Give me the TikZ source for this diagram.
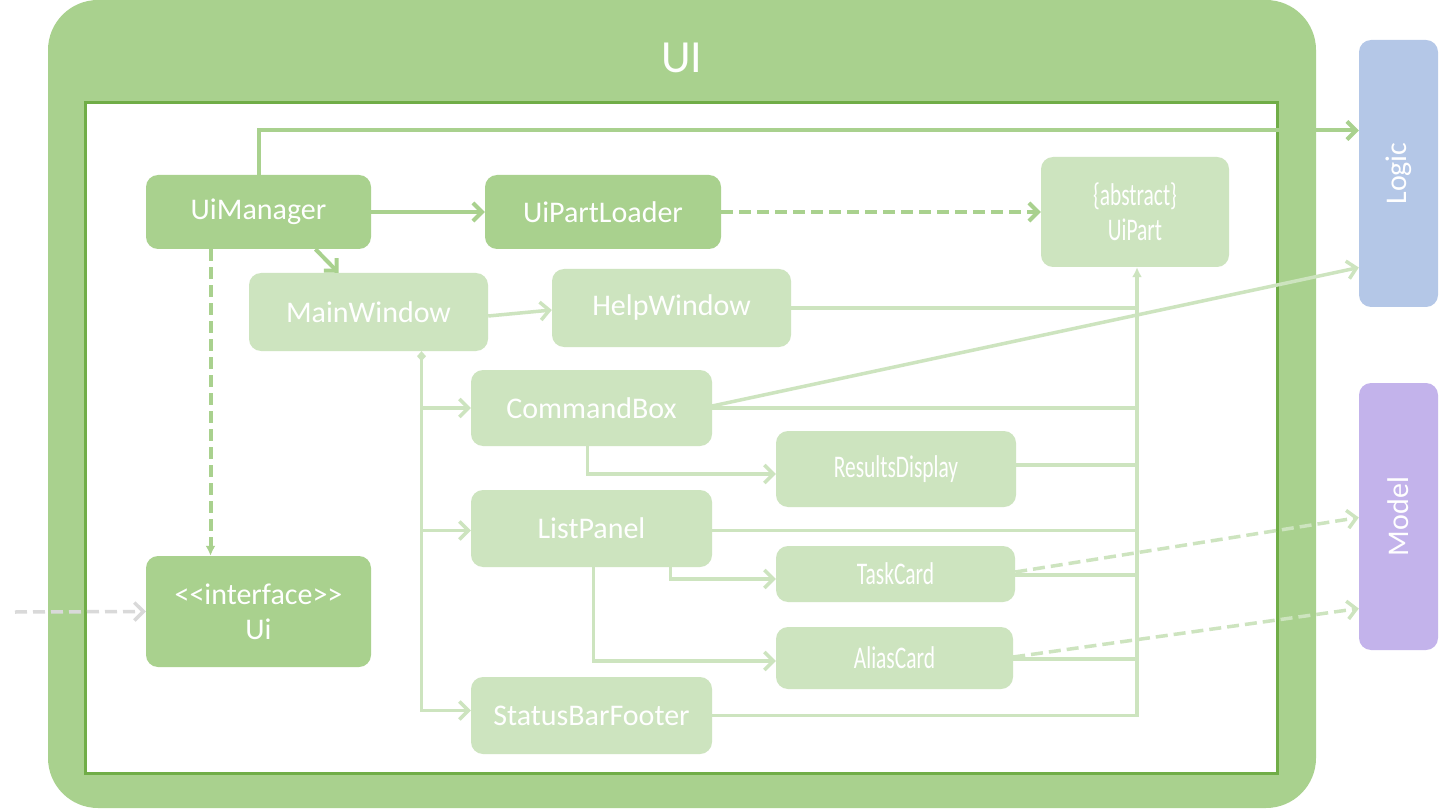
\documentclass[tikz,border=0pt]{standalone}
\usepackage{fontspec}
\usepackage{graphicx}
\setmainfont{Carlito}
\usetikzlibrary{arrows.meta,calc}
\definecolor{dkg}{HTML}{A9D18E}
\definecolor{ltg}{HTML}{CDE4BF}
\definecolor{brd}{HTML}{70AD47}
\definecolor{logicc}{HTML}{B4C7E7}
\definecolor{modelc}{HTML}{C3B3EB}
\definecolor{extg}{HTML}{D9D9D9}
\newcommand\nsz{\fontsize{30}{35}\selectfont}
\newcommand\cnd[1]{\scalebox{0.715}[1.05]{#1}}
\begin{document}
\begin{tikzpicture}[x=1pt,y=-1pt,
  box/.style={rounded corners=12pt,text=white,font=\nsz,align=center,inner sep=0pt},
  dk/.style={box,fill=dkg},
  lt/.style={box,fill=ltg},
  side/.style={rounded corners=12pt,text=white,font=\nsz,inner sep=0pt,minimum width=79pt,minimum height=267pt},
  dkline/.style={draw=dkg,line width=4pt},
  ltline/.style={draw=ltg,line width=3.5pt},
  barb/.style={-{Straight Barb[length=9pt,width=18pt]}},
  dsh/.style={dash pattern=on 12pt off 6pt},
]
\useasboundingbox (0,0) rectangle (1440,810);
% frame
\fill[dkg, rounded corners=50pt] (48,0) rectangle (1316,808);
\draw[fill=white, draw=brd, line width=3pt] (85,103) rectangle (1277,773);
\node[text=white, font=\fontsize{46}{50}\selectfont, inner sep=0pt] (title) at (682,58) {UI};
% side boxes
\node[side, fill=logicc] (logic) at (1398.5,173.5) {\rotatebox{90}{Logic}};
\node[side, fill=modelc] (model) at (1398.5,516.5) {\rotatebox{90}{Model}};
% nodes
\node[dk, minimum width=225pt, minimum height=74pt] (um) at (258.5,212) {UiManager};
\node[dk, minimum width=236pt, minimum height=74pt] (upl) at (603,212) {UiPartLoader};
\node[dk, minimum width=225pt, minimum height=111pt] (ui) at (258.5,611.5) {<\kern0pt<interface>\kern0pt>\\Ui};
\node[lt, minimum width=188pt, minimum height=110pt] (uip) at (1135,212) {\cnd{\{abstract\}}\\\cnd{UiPart}};
\node[lt, minimum width=239pt, minimum height=78pt] (mw) at (368.5,312) {MainWindow};
\node[lt, minimum width=239pt, minimum height=78pt] (hw) at (671.5,308) {HelpWindow};
\node[lt, minimum width=241pt, minimum height=76pt] (cb) at (591.5,408) {CommandBox};
\node[lt, minimum width=240pt, minimum height=76pt] (rd) at (896,469) {\cnd{ResultsDisplay}};
\node[lt, minimum width=241pt, minimum height=77pt] (lp) at (591.5,528.5) {ListPanel};
\node[lt, minimum width=239pt, minimum height=56pt] (tc) at (895.5,574) {\cnd{TaskCard}};
\node[lt, minimum width=237pt, minimum height=62pt] (ac) at (894.5,658) {\cnd{AliasCard}};
\node[lt, minimum width=241pt, minimum height=77pt] (sbf) at (591.5,715.5) {StatusBarFooter};
\coordinate (ext) at (15,612);
% trunk to UiPart
\coordinate (trunk) at ([xshift=2pt]uip.south);
\draw[ltline, -{Latex[length=10pt,width=10pt]}] (sbf.east) -| (trunk);
\draw[ltline] (hw.east) -- (hw.east -| trunk);
\draw[ltline] (cb.east) -- (cb.east -| trunk);
\draw[ltline] ([yshift=4pt]rd.east) -- ([yshift=4pt]rd.east -| trunk);
\draw[ltline] ([yshift=-2pt]lp.east) -- ([yshift=-2pt]lp.east -| trunk);
\draw[ltline] ([yshift=-1pt]tc.east) -- ([yshift=-1pt]tc.east -| trunk);
\draw[ltline] ([yshift=-1pt]ac.east) -- ([yshift=-1pt]ac.east -| trunk);
% dark connectors
\draw[dkline, barb] (um.east) -- (upl.west);
\draw[dkline, barb, dsh] (upl.east) -- (uip.west);
\draw[dkline, barb] ([xshift=57pt]um.south) -- ([xshift=-30pt]mw.north);
\draw[dkline, dsh, -{Latex[length=10pt,width=10pt]}] ([xshift=-48pt]um.south) -- ([xshift=-48pt]ui.north);
\draw[dkline, barb] (um.north) |- ([yshift=43pt]logic.west);
% light connectors
\draw[ltline, barb] ([yshift=-4pt]mw.east) -- ([yshift=-2pt]hw.west);
\draw[ltline, barb] ([yshift=2pt]cb.east) -- ([yshift=-94pt]logic.west);
\draw[ltline, barb, dsh] ([yshift=2pt]tc.east) -- ([yshift=-1pt]model.west);
\draw[ltline, barb, dsh] ([yshift=1pt]ac.east) -- ([yshift=-92pt]model.west);
% composition
\coordinate (cx) at ([xshift=53pt]mw.south);
\draw[ltline, {Diamond[length=10pt,width=9pt]}-{Straight Barb[length=9pt,width=18pt]}] (cx) |- ([yshift=5pt]sbf.west);
\draw[ltline, barb] (cx |- cb.west) -- (cb.west);
\draw[ltline, barb] ([yshift=-2pt]cx |- lp.west) -- ([yshift=-2pt]lp.west);
\draw[ltline, barb] ([xshift=-4pt]cb.south) |- ([yshift=-5pt]rd.west);
\draw[ltline, barb] ([xshift=79pt]lp.south) |- ([yshift=-5pt]tc.west);
\draw[ltline, barb] ([xshift=2pt]lp.south) |- ([yshift=-3pt]ac.west);
% external
\draw[draw=extg, line width=3.5pt, dsh, barb] (ext) -- (ui.west);
\end{tikzpicture}
\end{document}
